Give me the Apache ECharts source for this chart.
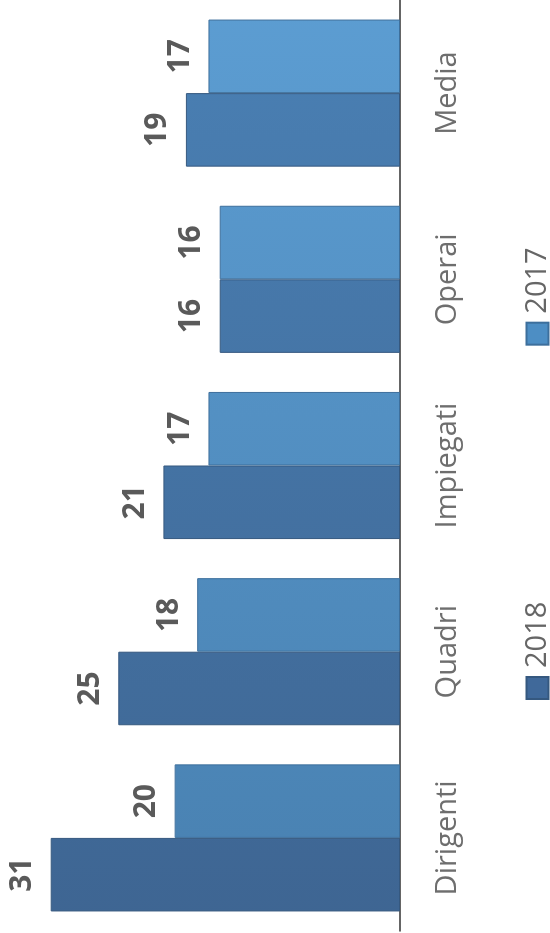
<!DOCTYPE html>
<html>
<head>
<meta charset="utf-8">
<script src="https://cdn.jsdelivr.net/npm/echarts@6/dist/echarts.min.js"></script>
<style>
  html, body { margin: 0; padding: 0; background: #fff; }
  #wrap { position: relative; width: 550px; height: 933px; overflow: hidden; }
  /* the scanned chart is turned a quarter turn to the left */
  #chart {
    position: absolute; left: 0; top: 0;
    width: 933px; height: 550px;
    transform-origin: 0 0;
    transform: translate(0, 933px) rotate(-90deg);
  }
</style>
</head>
<body>
<div id="wrap"><div id="chart"></div></div>
<script>
  const categories = ['Dirigenti', 'Quadri', 'Impiegati', 'Operai', 'Media'];
  const values2018 = [31, 25, 21, 16, 19];
  const values2017 = [20, 18, 17, 16, 17];

  // scan gets lighter towards the top of the page, so fade the fill across the axis
  function fade(from, to) {
    return new echarts.graphic.LinearGradient(0, 0, 933, 0, [
      { offset: 0, color: from },
      { offset: 1, color: to }
    ], true);
  }

  const labelStyle = {
    show: true,
    position: 'top',
    distance: 13,
    fontSize: 30,
    fontWeight: 'bold',
    fontFamily: 'Open Sans',
    color: '#5a5a5a'
  };

  const option = {
    animation: false,
    backgroundColor: '#fff',
    grid: { left: 2, right: 0, top: 0, bottom: 150 },
    legend: {
      left: 228,
      top: 518,
      itemGap: 256,
      itemWidth: 22,
      itemHeight: 22,
      icon: 'rect',
      textStyle: { fontSize: 29, color: '#666', fontFamily: 'Open Sans', padding: [0, 0, 0, 4] },
      data: [
        { name: '2018', itemStyle: { color: '#40699a' } },
        { name: '2017', itemStyle: { color: '#4d8ec4' } }
      ]
    },
    xAxis: {
      type: 'category',
      data: categories,
      axisLine: { lineStyle: { color: '#333', width: 1.5 } },
      axisTick: { show: false },
      axisLabel: {
        fontSize: 29,
        color: '#6e6e6e',
        fontFamily: 'Open Sans',
        margin: 33
      }
    },
    yAxis: {
      type: 'value',
      min: 0,
      max: 35.5,
      show: false
    },
    series: [
      {
        name: '2018',
        type: 'bar',
        data: values2018,
        barGap: '0%',
        barCategoryGap: '21%',
        itemStyle: { color: fade('#3e6592', '#4a80b4'), borderColor: '#35587f', borderWidth: 1 },
        label: labelStyle
      },
      {
        name: '2017',
        type: 'bar',
        data: values2017,
        itemStyle: { color: fade('#4880b0', '#5c9dd2'), borderColor: '#3d6f9c', borderWidth: 1 },
        label: labelStyle
      }
    ]
  };

  const chart = echarts.init(document.getElementById('chart'));
  chart.setOption(option);
</script>
</body>
</html>
